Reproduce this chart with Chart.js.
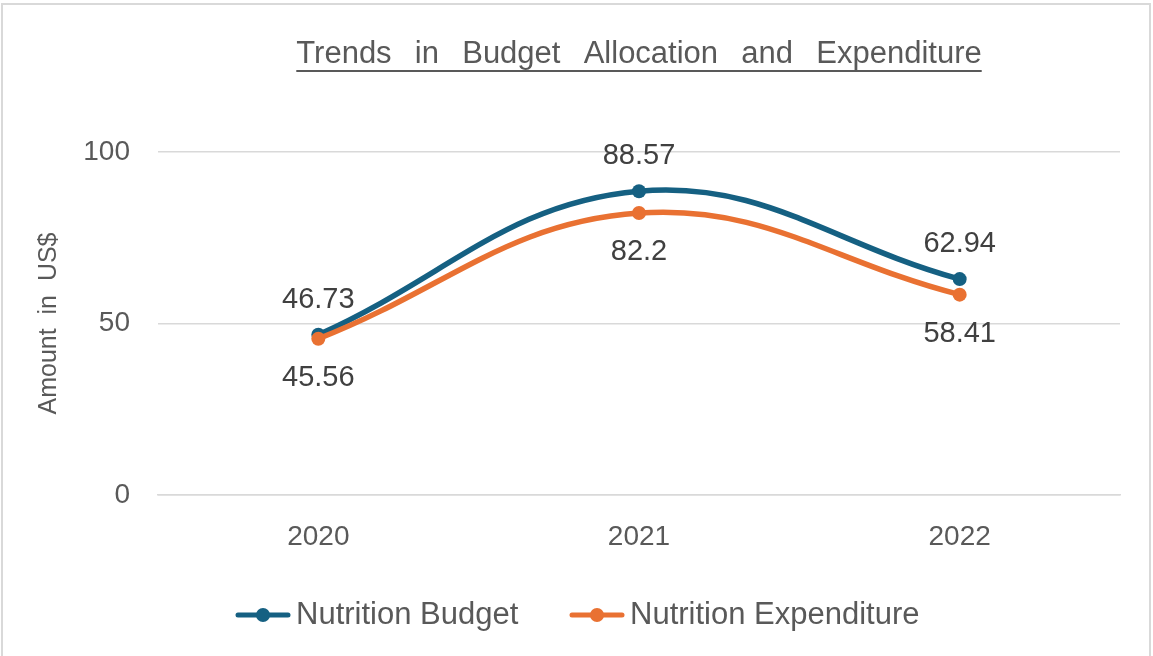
<!DOCTYPE html>
<html>
<head>
<meta charset="utf-8">
<script src="https://cdn.jsdelivr.net/npm/chart.js@4/dist/chart.umd.min.js"></script>
<style>
  body { margin: 0; background: #fff; overflow: hidden; }
  #wrap { position: relative; width: 1153px; height: 656px; }
  #frame { position: absolute; left: 1px; top: 3px; width: 1146px; height: 670px; border: 2px solid #d9d9d9; pointer-events: none; }
  canvas { position: absolute; left: 0; top: 0; }
</style>
</head>
<body>
<div id="wrap">
  <canvas id="trendChart" width="1153" height="656"></canvas>
  <div id="frame"></div>
</div>
<script>
const years = ['2020', '2021', '2022'];
const budget = [46.73, 88.57, 62.94];
const expenditure = [45.56, 82.2, 58.41];
const yTicks = [0, 50, 100];

const chartTitle = 'Trends  in  Budget  Allocation  and  Expenditure';
const axisTitle = 'Amount  in  US$';
const seriesNames = ['Nutrition Budget', 'Nutrition Expenditure'];

const blue = '#156082';
const orange = '#E97132';
const textColor = '#595959';
const font = '"Liberation Sans", Arial, sans-serif';

// Title with underline, centred over the plot area
const titlePlugin = {
    id: 'underlinedTitle',
    afterDraw(chart) {
        const ctx = chart.ctx;
        const area = chart.chartArea;
        const cx = (area.left + area.right) / 2;
        ctx.save();
        ctx.font = '31px ' + font;
        ctx.wordSpacing = '3px';
        ctx.fillStyle = textColor;
        ctx.textAlign = 'center';
        ctx.textBaseline = 'middle';
        ctx.fillText(chartTitle, cx, 54);
        const w = ctx.measureText(chartTitle).width;
        ctx.fillRect(cx - w / 2, 70, w, 2);
        ctx.restore();
    }
};

// Value labels: budget above its points, expenditure below
const valueLabels = {
    id: 'valueLabels',
    afterDatasetsDraw(chart) {
        const ctx = chart.ctx;
        ctx.save();
        ctx.font = '29px ' + font;
        ctx.fillStyle = '#404040';
        ctx.textAlign = 'center';
        ctx.textBaseline = 'middle';
        chart.data.datasets.forEach((ds, i) => {
            const meta = chart.getDatasetMeta(i);
            meta.data.forEach((pt, j) => {
                const dy = i === 0 ? -35 : 39;
                ctx.fillText(String(ds.data[j]), pt.x, pt.y + dy);
            });
        });
        ctx.restore();
    }
};

// Legend with line-and-dot markers
const legendPlugin = {
    id: 'lineLegend',
    afterDraw(chart) {
        const ctx = chart.ctx;
        const colors = [blue, orange];
        const starts = [236, 570];
        const markerW = 54, textGap = 6, y = 615;
        ctx.save();
        ctx.font = '31px ' + font;
        seriesNames.forEach((name, i) => {
            const x = starts[i];
            ctx.strokeStyle = colors[i];
            ctx.lineWidth = 5;
            ctx.lineCap = 'round';
            ctx.beginPath();
            ctx.moveTo(x + 2, y);
            ctx.lineTo(x + markerW - 2, y);
            ctx.stroke();
            ctx.fillStyle = colors[i];
            ctx.beginPath();
            ctx.arc(x + markerW / 2, y, 7, 0, Math.PI * 2);
            ctx.fill();
            ctx.fillStyle = textColor;
            ctx.textAlign = 'left';
            ctx.textBaseline = 'middle';
            ctx.fillText(name, x + markerW + textGap, y);
        });
        ctx.restore();
    }
};

const ctx = document.getElementById('trendChart').getContext('2d');

window.trendChart = new Chart(ctx, {
    type: 'line',
    data: {
        labels: years,
        datasets: [{
            label: seriesNames[0],
            data: budget,
            borderColor: blue,
            backgroundColor: blue,
            borderWidth: 5.5,
            pointRadius: 7,
            pointBorderWidth: 0,
            tension: 0.4,
            fill: false,
            order: 1
        }, {
            label: seriesNames[1],
            data: expenditure,
            borderColor: orange,
            backgroundColor: orange,
            borderWidth: 5.5,
            pointRadius: 7,
            pointBorderWidth: 0,
            tension: 0.4,
            fill: false,
            order: 0
        }]
    },
    options: {
        responsive: false,
        animation: false,
        layout: { padding: { top: 152, right: 33, bottom: 0, left: 0 } },
        plugins: {
            legend: { display: false },
            title: { display: false },
            tooltip: { enabled: false }
        },
        scales: {
            x: {
                offset: true,
                grid: { display: false, drawTicks: false },
                border: { display: true, color: '#d9d9d9', width: 1.5 },
                ticks: { color: textColor, font: { size: 28, family: font }, padding: 25 },
                afterFit(scale) { scale.height = 161; }
            },
            y: {
                min: 0,
                max: 100,
                afterBuildTicks(scale) { scale.ticks = yTicks.map(v => ({ value: v })); },
                grid: { color: '#d9d9d9', lineWidth: 1.5, drawTicks: false },
                border: { display: false },
                ticks: { color: textColor, font: { size: 28, family: font }, padding: 28 },
                title: {
                    display: true,
                    text: axisTitle,
                    color: textColor,
                    font: { size: 25, family: font },
                    padding: { top: 34, bottom: 0 }
                },
                afterFit(scale) { scale.width = 158; }
            }
        }
    },
    plugins: [titlePlugin, valueLabels, legendPlugin]
});
</script>
</body>
</html>
